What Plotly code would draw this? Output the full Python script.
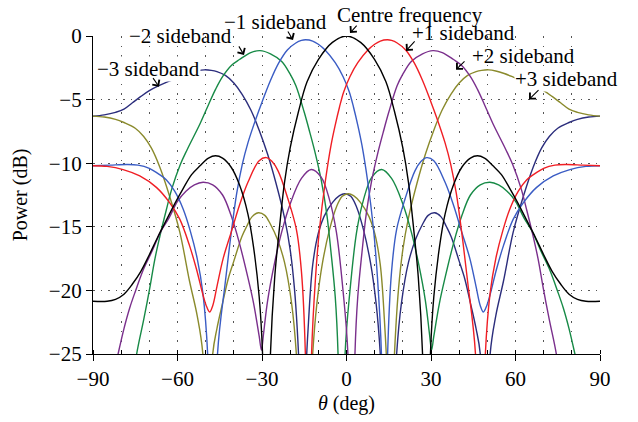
import plotly.graph_objects as go

# ---------------- data ----------------
theta_centre = [-90, -85, -82, -79, -76, -73, -70, -67, -64, -61, -58, -55, -52, -49, -46.5, -44, -41, -38, -35, -33,
                -31, -29.8, -28.4, -27, -25.5, -24, -22, -20, -17, -14, -10, -5, 0, 5, 10, 14, 17, 20, 22, 24,
                25.5, 27, 28.4, 29.8, 31, 33, 35, 38, 41, 44, 46.5, 49, 52, 55, 58, 61, 64, 67, 70, 73,
                76, 79, 82, 85, 90]
db_centre = [-20.85, -20.85, -20.7, -20.3, -19.5, -18.5, -17.2, -15.8, -14.5, -13.2, -12.0, -10.9, -10.2, -9.6, -9.42, -9.6, -10.3, -11.7, -14.0, -16.6,
             -20.5, -25, -45, -25, -19, -15.5, -11.5, -8.8, -5.9, -3.6, -1.85, -0.5, 0, -0.5, -1.85, -3.6, -5.9, -8.8, -11.5, -15.5,
             -19, -25, -45, -25, -20.5, -16.6, -14.0, -11.7, -10.3, -9.6, -9.42, -9.6, -10.2, -10.9, -12.0, -13.2, -14.5, -15.8, -17.2, -18.5,
             -19.5, -20.3, -20.7, -20.85, -20.85]

theta_m1 = [-90, -84, -78, -74, -70, -67, -64, -61, -58, -55.5, -53, -51, -49.3, -47.6, -45.8, -43, -41, -39, -37, -35,
            -32, -30, -27, -24, -21, -18, -16, -14.5, -12, -10, -7.6, -4, -1.2, 1, 2.5, 4, 5.5, 7.5, 9.5, 11,
            12.4, 13.5, 14.6, 16, 17.8, 20.8, 24.3, 26.5, 28.5, 31, 35, 38, 40.9, 43.8, 46, 47.5, 48.6, 49.8, 50.9, 53.3,
            55.7, 59.2, 62.8, 67.5, 73.4, 79.3, 85, 90]
db_m1 = [-10.2, -10.15, -10.1, -10.15, -10.4, -10.8, -11.3, -12.2, -13.6, -15.3, -17.5, -20.2, -25, -45, -25, -19.3, -15.6, -12.4, -10.1, -8.4,
         -6.4, -5.2, -3.5, -2.1, -1.1, -0.55, -0.35, -0.3, -0.4, -0.65, -1.1, -2.1, -3.2, -4.4, -5.6, -7.0, -8.6, -11.4, -15.0, -19.0,
         -25, -45, -25, -18.5, -15.2, -12.8, -10.6, -9.85, -9.56, -9.8, -11.5, -13.3, -15.4, -17.5, -19.7, -21.2, -21.7, -21.2, -20.4, -18.3,
         -16.5, -14.4, -13.1, -11.9, -11.0, -10.5, -10.25, -10.2]

theta_p1 = [-90, -85, -79.3, -73.4, -67.5, -62.8, -59.2, -55.7, -53.3, -50.9, -49.8, -48.6, -47.5, -46, -43.8, -40.9, -38, -35, -31, -28.5,
            -26.5, -24.3, -20.8, -17.8, -16, -14.6, -13.5, -12.4, -11, -9.5, -7.5, -5.5, -4, -2.5, -1, 1.2, 4, 7.6, 10, 12,
            14.5, 16, 18, 21, 24, 27, 30, 32, 35, 37, 39, 41, 43, 45.8, 47.6, 49.3, 51, 53, 55.5, 58,
            61, 64, 67, 70, 74, 78, 84, 90]
db_p1 = [-10.2, -10.25, -10.5, -11.0, -11.9, -13.1, -14.4, -16.5, -18.3, -20.4, -21.2, -21.7, -21.2, -19.7, -17.5, -15.4, -13.3, -11.5, -9.8, -9.56,
         -9.85, -10.6, -12.8, -15.2, -18.5, -25, -45, -25, -19.0, -15.0, -11.4, -8.6, -7.0, -5.6, -4.4, -3.2, -2.1, -1.1, -0.65, -0.4,
         -0.3, -0.35, -0.55, -1.1, -2.1, -3.5, -5.2, -6.4, -8.4, -10.1, -12.4, -15.6, -19.3, -25, -45, -25, -20.2, -17.5, -15.3, -13.6,
         -12.2, -11.3, -10.8, -10.4, -10.15, -10.1, -10.15, -10.2]

theta_m2 = [-77, -74.5, -72, -70, -68, -66, -64, -62, -59, -56.5, -52, -49, -46.5, -44, -40.8, -38, -34, -30.7, -27, -23,
            -20, -18, -15, -13, -11, -9, -7, -5.5, -4, -3, -1.7, -0.5, 1.2, 3.6, 6, 9, 12.5, 16, 20, 23,
            25.5, 28, 29.5, 30.2, 31, 33, 35, 38, 41, 44, 47.5, 50.9, 54, 57, 60, 63, 66, 69, 72, 75,
            77, 79, 81.1, 84]
db_m2 = [-29, -25, -22.3, -20, -17.5, -15.5, -13.7, -12.0, -10.1, -8.9, -6.9, -5.4, -4.2, -3.2, -2.3, -1.85, -1.3, -1.15, -1.4, -2.0,
         -3.0, -3.9, -6.0, -7.6, -9.3, -11.3, -14.0, -17.0, -20.5, -25, -45, -25, -20.1, -15.4, -12.9, -11.1, -10.5, -11.2, -13.2, -15.4,
         -17.8, -20.8, -23.5, -24.7, -23.6, -21.0, -19.0, -16.3, -14.1, -12.5, -11.7, -11.5, -11.7, -12.2, -13.0, -14.3, -15.4, -16.9, -18.3, -20.1,
         -21.4, -23.0, -25, -28]

theta_p2 = [-84, -81.1, -79, -77, -75, -72, -69, -66, -63, -60, -57, -54, -50.9, -47.5, -44, -41, -38, -35, -33, -31,
            -30.2, -29.5, -28, -25.5, -23, -20, -16, -12.5, -9, -6, -3.6, -1.2, 0.5, 1.7, 3, 4, 5.5, 7, 9, 11,
            13, 15, 18, 20, 23, 27, 30.7, 34, 38, 40.8, 44, 46.5, 49, 52, 56.5, 59, 62, 64, 66, 68,
            70, 72, 74.5, 77]
db_p2 = [-28, -25, -23.0, -21.4, -20.1, -18.3, -16.9, -15.4, -14.3, -13.0, -12.2, -11.7, -11.5, -11.7, -12.5, -14.1, -16.3, -19.0, -21.0, -23.6,
         -24.7, -23.5, -20.8, -17.8, -15.4, -13.2, -11.2, -10.5, -11.1, -12.9, -15.4, -20.1, -25, -45, -25, -20.5, -17.0, -14.0, -11.3, -9.3,
         -7.6, -6.0, -3.9, -3.0, -2.0, -1.4, -1.15, -1.3, -1.85, -2.3, -3.2, -4.2, -5.4, -6.9, -8.9, -10.1, -12.0, -13.7, -15.5, -17.5,
         -20, -22.3, -25, -29]

theta_m3 = [-90, -86, -82, -79, -76, -73, -70, -67, -64, -60, -56, -53, -50.5, -48, -46, -43, -40, -37, -34, -31,
            -28, -25, -22, -20, -18.5, -17.5, -16.5, -15.5, -14.5, -13.5, -12, -10, -8, -5, -2.5, -0.6, 1.5, 3.5, 6, 8.5,
            10.5, 12, 13.5, 15, 17.8, 19.5, 22, 24.5, 27, 29, 31.3, 33.5, 35.5, 37.2, 40, 42, 44, 46, 47.5, 49.5,
            51, 53, 55.7, 59.2, 62.8, 66.3, 69.3, 72, 75, 79, 82, 86, 90]
db_m3 = [-6.3, -6.2, -6.0, -5.75, -5.25, -4.75, -4.3, -3.95, -3.65, -3.3, -2.95, -2.75, -2.66, -2.7, -2.8, -3.1, -3.7, -4.6, -5.8, -7.4,
         -9.3, -11.6, -14.3, -16.8, -19.8, -23, -28, -40, -27, -22.5, -18.0, -15.5, -14.2, -13.1, -12.55, -12.4, -12.6, -13.4, -15.2, -17.8,
         -21.0, -25, -33, -40, -25, -21.0, -17.8, -16.0, -14.8, -14.1, -13.9, -14.2, -15.0, -15.8, -17.7, -19.1, -21.0, -23.0, -25, -40,
         -25, -22, -19.3, -15.4, -12.6, -10.3, -8.8, -7.9, -7.25, -6.8, -6.55, -6.37, -6.3]

theta_p3 = [-90, -86, -82, -79, -75, -72, -69.3, -66.3, -62.8, -59.2, -55.7, -53, -51, -49.5, -47.5, -46, -44, -42, -40, -37.2,
            -35.5, -33.5, -31.3, -29, -27, -24.5, -22, -19.5, -17.8, -15, -13.5, -12, -10.5, -8.5, -6, -3.5, -1.5, 0.6, 2.5, 5,
            8, 10, 12, 13.5, 14.5, 15.5, 16.5, 17.5, 18.5, 20, 22, 25, 28, 31, 34, 37, 40, 43, 46, 48,
            50.5, 53, 56, 60, 64, 67, 70, 73, 76, 79, 82, 86, 90]
db_p3 = [-6.3, -6.37, -6.55, -6.8, -7.25, -7.9, -8.8, -10.3, -12.6, -15.4, -19.3, -22, -25, -40, -25, -23.0, -21.0, -19.1, -17.7, -15.8,
         -15.0, -14.2, -13.9, -14.1, -14.8, -16.0, -17.8, -21.0, -25, -40, -33, -25, -21.0, -17.8, -15.2, -13.4, -12.6, -12.4, -12.55, -13.1,
         -14.2, -15.5, -18.0, -22.5, -27, -40, -28, -23, -19.8, -16.8, -14.3, -11.6, -9.3, -7.4, -5.8, -4.6, -3.7, -3.1, -2.8, -2.7,
         -2.66, -2.75, -2.95, -3.3, -3.65, -3.95, -4.3, -4.75, -5.25, -5.75, -6.0, -6.2, -6.3]

x_ticks = [-90, -60, -30, 0, 30, 60, 90]
y_ticks = [-25, -20, -15, -10, -5, 0]

# ---------------- figure ----------------
series = [
    ("-3 sideband", theta_m3, db_m3, "#2b2d7c"),
    ("+3 sideband", theta_p3, db_p3, "#8a8a2c"),
    ("-2 sideband", theta_m2, db_m2, "#178a46"),
    ("+2 sideband", theta_p2, db_p2, "#7a2f8c"),
    ("-1 sideband", theta_m1, db_m1, "#3a5cc4"),
    ("+1 sideband", theta_p1, db_p1, "#f01e24"),
    ("Centre frequency", theta_centre, db_centre, "#000000"),
]

fig = go.Figure()
for name, th, db, col in series:
    fig.add_trace(go.Scatter(x=th, y=db, mode="lines", name=name, showlegend=False,
                             hoverinfo="skip",
                             line=dict(color=col, width=1.4, shape="spline", smoothing=1.0)))

FONT = "Liberation Serif, Times New Roman, serif"
grid_col = "#555555"

fig.update_layout(
    width=638, height=422,
    margin=dict(l=93, r=38, t=36, b=66),
    paper_bgcolor="white", plot_bgcolor="white",
    font=dict(family=FONT, size=21, color="black"),
    xaxis=dict(
        range=[-90, 90], tickmode="array", tickvals=x_ticks,
        showline=True, linecolor="black", linewidth=1.3,
        ticks="outside", ticklen=6, tickwidth=1.3, tickcolor="black",
        showgrid=True, gridcolor=grid_col, gridwidth=1, griddash="1.5px,8px",
        minor=dict(dtick=10, tick0=-90, showgrid=True, gridcolor=grid_col, gridwidth=1,
                   griddash="1.5px,8px", ticks="inside", ticklen=4, tickcolor="black", tickwidth=1),
        zeroline=False,
        title=dict(text="<i>θ</i> (deg)", standoff=5, font=dict(family=FONT, size=20)),
        tickfont=dict(family=FONT, size=21),
    ),
    yaxis=dict(
        range=[-25, 0], tickmode="array", tickvals=y_ticks,
        showline=True, linecolor="black", linewidth=1.3,
        ticks="outside", ticklen=6, tickwidth=1.3, tickcolor="black",
        showgrid=True, gridcolor=grid_col, gridwidth=1, griddash="1.5px,6px",
        zeroline=False,
        title=dict(text="Power (dB)", standoff=15, font=dict(family=FONT, size=20)),
        tickfont=dict(family=FONT, size=21),
    ),
)

# label positions in paper units (fractions of the plot area)
labels = [
    ("−3 sideband", 0.1085, 0.8953, True),
    ("−2 sideband", 0.1732, 1.0000, False),
    ("−1 sideband", 0.3604, 1.0438, False),
    ("Centre frequency", 0.6247, 1.0656, False),
    ("+1 sideband", 0.7304, 1.0110, False),
    ("+2 sideband", 0.8487, 0.9359, False),
    ("+3 sideband", 0.9343, 0.8641, True),
]
for txt, xx, yy, bg in labels:
    fig.add_annotation(x=xx, y=yy, xref="paper", yref="paper", text=txt, showarrow=False,
                       xanchor="center", yanchor="middle",
                       font=dict(family=FONT, size=21, color="black"),
                       bgcolor="white" if bg else "rgba(0,0,0,0)", borderpad=0)

arrows = [
    (0.1302, 0.8406, -7, -10),
    (0.2978, 0.9406, -6, -10),
    (0.3945, 0.9875, -6, -10),
    (0.5069, 1.0094, 8, -9),
    (0.6174, 0.9531, 10, -11),
    (0.7160, 0.8938, 10, -10),
    (0.8600, 0.8000, 11, -11),
]
for xx, yy, axp, ayp in arrows:
    fig.add_annotation(x=xx, y=yy, xref="paper", yref="paper", text="", showarrow=True,
                       ax=axp, ay=ayp, axref="pixel", ayref="pixel",
                       arrowhead=4, arrowsize=1.5, arrowwidth=1.1, arrowcolor="black", standoff=0)

fig.write_html("out.html",
               config={"displayModeBar": False},
               post_script="document.body.style.margin='0';document.body.style.padding='0';")
